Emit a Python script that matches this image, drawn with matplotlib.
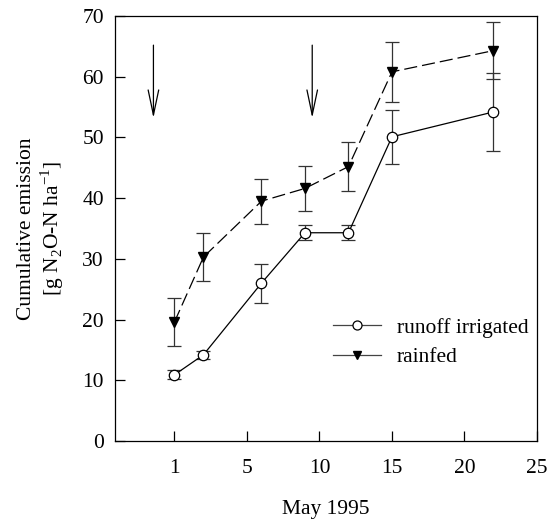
import matplotlib
matplotlib.use("Agg")
import matplotlib.pyplot as plt
from matplotlib.lines import Line2D

plt.rcParams['font.family'] = ['Liberation Serif', 'DejaVu Serif']
plt.rcParams['mathtext.fontset'] = 'custom'
plt.rcParams['mathtext.rm'] = 'Liberation Serif'

# x positions on the day axis (tick "1" sits at position 0)
days = [0, 2, 6, 9, 12, 15, 22]
runoff = [10.9, 14.2, 26.0, 34.3, 34.3, 50.1, 54.2]
runoff_err = [0.75, 0.65, 3.2, 1.25, 1.25, 4.5, 6.4]
rainfed = [19.6, 30.3, 39.5, 41.6, 45.2, 60.8, 64.3]
rainfed_err = [4.0, 4.0, 3.7, 3.7, 4.0, 5.0, 4.7]
tick_pos = [0, 5, 10, 15, 20, 25]
tick_labels = ["1", "5", "10", "15", "20", "25"]
arrow_x = [-1.45, 9.5]

FS = 15.5
fig = plt.figure(figsize=(5.6, 5.2), dpi=100)
ax = fig.add_axes([115/560, 1-441/520, (537-115)/560, (441-16)/520])

dash = (10.5, 4)
ax.errorbar(days, rainfed, yerr=rainfed_err, color='black', lw=0.9,
            dashes=dash, marker='v', ms=7, mfc='black', mec='black',
            ecolor='#333333', elinewidth=0.9, capsize=5, capthick=0.9,
            zorder=3)
ax.errorbar(days, runoff, yerr=runoff_err, color='black', lw=0.9,
            marker='o', ms=7.5, mfc='white', mec='black', mew=0.9,
            ecolor='#333333', elinewidth=0.9, capsize=5, capthick=0.9,
            zorder=4)

for xa in arrow_x:
    ax.annotate('', xy=(xa, 53.2), xytext=(xa, 65.2),
                arrowprops=dict(arrowstyle='->,head_length=1.8,head_width=0.38',
                                lw=0.9, color='black', shrinkA=0, shrinkB=0))

ax.set_xlim(-4.1, 25)
ax.set_ylim(0, 70)
ax.set_xticks(tick_pos)
ax.set_xticklabels(tick_labels)
ax.set_yticks(range(0, 71, 10))
ax.tick_params(direction='in', length=7, width=0.9, labelsize=FS)
ax.tick_params(axis='x', pad=13)
ax.tick_params(axis='y', pad=8)
for s in ax.spines.values():
    s.set_linewidth(0.9)

ax.set_xlabel('May 1995', fontsize=FS, labelpad=16)
ax.set_ylabel('Cumulative emission\n[g N$_2$O-N ha$^{-1}$]', fontsize=FS,
              labelpad=12, linespacing=1.08)

handles = [
    Line2D([], [], color='#444444', lw=0.9, marker='o', ms=6.5, mfc='white',
           mec='black', mew=0.9),
    Line2D([], [], color='#444444', lw=0.9, marker='v', ms=6, mfc='black',
           mec='black'),
]
labels = ['runoff irrigated', 'rainfed']
ax.legend(handles, labels, loc='center left',
          bbox_to_anchor=(333/560, 1-342.5/520), bbox_transform=fig.transFigure,
          frameon=False, fontsize=FS, handlelength=2.25, handletextpad=0.7,
          labelspacing=0.45, borderpad=0, borderaxespad=0)

fig.savefig('out.png', dpi=100)
